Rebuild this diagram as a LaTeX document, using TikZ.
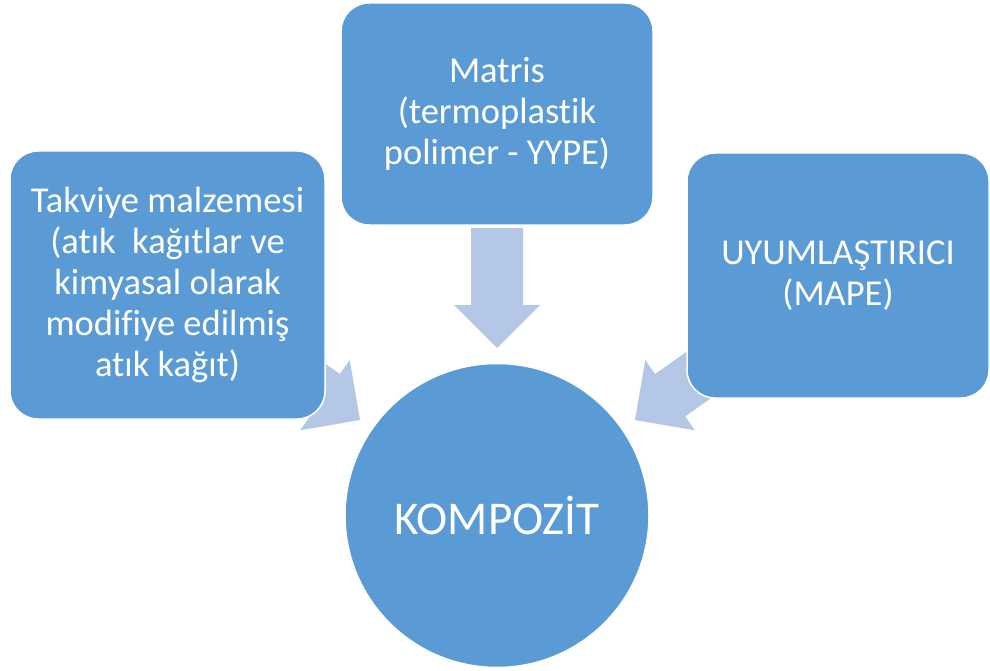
\documentclass[tikz,border=0pt]{standalone}
\usepackage{fontspec}
\setmainfont{Carlito}[Ligatures=NoCommon]
\definecolor{boxblue}{HTML}{5B9BD5}
\definecolor{arrowblue}{HTML}{B4C7E7}
\tikzset{
  boxnode/.style={fill=boxblue, draw=white, line width=1.5pt, rounded corners=28pt,
    text=white, align=center, font=\fontsize{36.5}{41.2}\selectfont, inner sep=0pt},
  circnode/.style={circle, fill=boxblue, draw=white, line width=1.5pt, text=white,
    font=\fontsize{47}{56}\selectfont, inner sep=0pt},
  blockarrow/.style={fill=arrowblue, draw=none}
}
\begin{document}
\begin{tikzpicture}[x=1pt,y=-1pt]
\useasboundingbox (0,0) rectangle (990,671);
% block arrows (behind the boxes)
\fill[blockarrow] (187.3,329.8) -- (309.9,416.4) -- (300.1,430.3) -- (360,420)
  -- (349.7,360.1) -- (339.9,374.0) -- (217.3,287.4) -- cycle;
\fill[blockarrow] (807.7,329.8) -- (685.1,416.4) -- (694.9,430.3) -- (635,420)
  -- (645.3,360.1) -- (655.1,374.0) -- (777.7,287.4) -- cycle;
\fill[blockarrow] (471,228) -- (471,305) -- (454,305) -- (497,348)
  -- (540,305) -- (523,305) -- (523,228) -- cycle;
% boxes
\node[boxnode, minimum width=315pt, minimum height=268pt] (left) at (167.5,285)
  {Takviye malzemesi\\(atık\ \ kağıtlar ve\\kimyasal olarak\\modifiye edilmiş\\atık kağıt)};
\node[boxnode, minimum width=312pt, minimum height=222pt] (top) at (497,114)
  {Matris\\(termoplastik\\polimer - YYPE)};
\node[boxnode, minimum width=302pt, minimum height=245pt] (right) at (838,275.5)
  {UYUMLAŞTIRICI\\(MAPE)};
\node[circnode, minimum size=304pt] (comp) at (497,515.5) {KOMPOZİT};
\end{tikzpicture}
\end{document}
